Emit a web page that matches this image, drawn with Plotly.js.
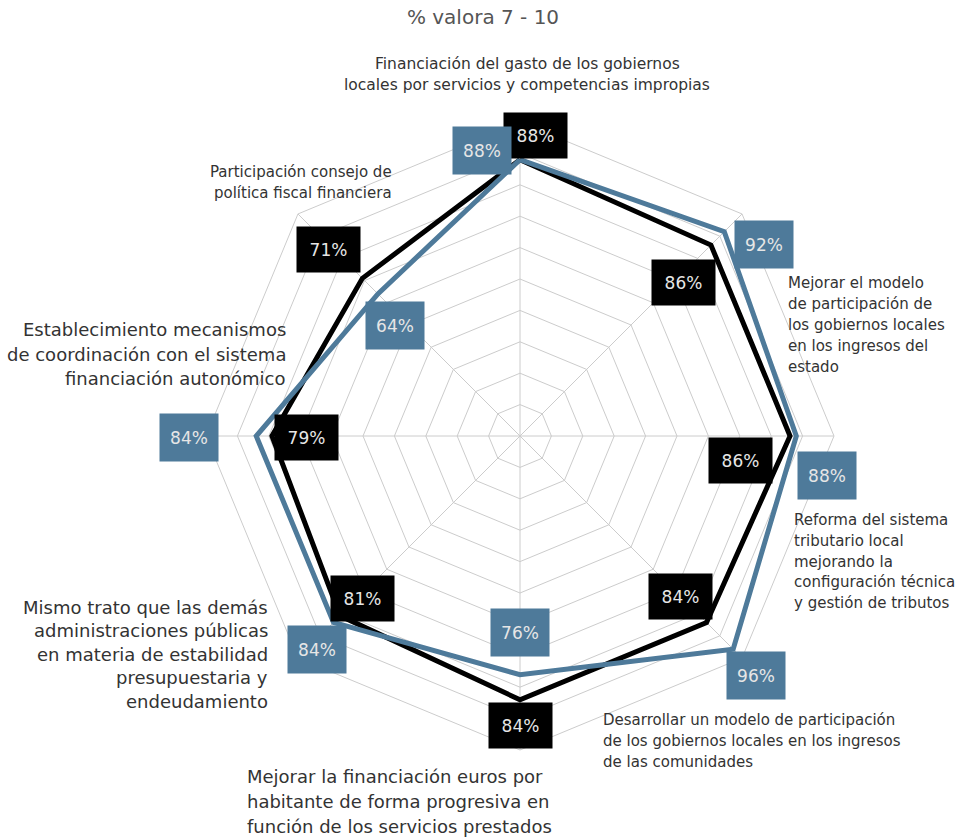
<!DOCTYPE html>
<html>
<head>
<meta charset="utf-8">
<script src="https://cdn.plot.ly/plotly-3.0.1.min.js"></script>
<style>
  body { margin: 0; background: #fff; }
  #chart { width: 968px; height: 837px; }
</style>
</head>
<body>
<div id="chart"></div>
<script>
// categories, clockwise from the top
const categories = [
  "Financiación del gasto de los gobiernos<br>locales por servicios y competencias impropias",
  "Mejorar el modelo<br>de participación de<br>los gobiernos locales<br>en los ingresos del<br>estado",
  "Reforma del sistema<br>tributario local<br>mejorando la<br>configuración técnica<br>y gestión de tributos",
  "Desarrollar un modelo de participación<br>de los gobiernos locales en los ingresos<br>de las comunidades",
  "Mejorar la financiación euros por<br>habitante de forma progresiva en<br>función de los servicios prestados",
  "Mismo trato que las demás<br>administraciones públicas<br>en materia de estabilidad<br>presupuestaria y<br>endeudamiento",
  "Establecimiento mecanismos<br>de coordinación con el sistema<br>financiación autonómico",
  "Participación consejo de<br>política fiscal financiera"
];
const blackValues = [88, 86, 86, 84, 84, 81, 79, 71];
const blueValues  = [88, 92, 88, 96, 76, 84, 84, 64];

const W = 968, H = 837;
const cx = 520, cy = 436, R = 314;
const BLUE = '#4e7a9a';
const FONT = '"DejaVu Sans", sans-serif';

// label box offsets from their point (screen px, down positive)
const blackShift = [[15,-24],[-27,37],[-50,24],[-26,-26],[0,26],[22,-17],[35,1],[-34,-29]];
const blueShift  = [[-38,-9],[40,13],[31,39],[23,26],[0,-42],[-16,27],[-67,1],[17,32]];

// category label placement (px): x, first line centre y, line step, anchor, font size
const catPos = [
  [527, 64, 21, 'center', 15.5],
  [787, 283, 21, 'left', 15],
  [793, 520, 20.8, 'left', 15],
  [602, 720, 21, 'left', 15],
  [246, 776, 25, 'left', 18],
  [269, 607, 23.5, 'right', 18],
  [287, 330, 24, 'right', 18],
  [393, 172, 21, 'right', 15]
];

const keys = categories.map((c, i) => 'c' + i);
const close = arr => arr.concat(arr[0]);

const traces = [
  {
    type: 'scatterpolar', mode: 'lines',
    r: close(blackValues), theta: close(keys),
    line: {color: '#000', width: 5},
    hoverinfo: 'skip', showlegend: false
  },
  {
    type: 'scatterpolar', mode: 'lines',
    r: close(blueValues), theta: close(keys),
    line: {color: BLUE, width: 5},
    hoverinfo: 'skip', showlegend: false
  },
  // empty carrier for the overlay axes used by the value labels
  {type: 'scatter', x: [], y: [], xaxis: 'x', yaxis: 'y', hoverinfo: 'skip', showlegend: false}
];

const dom = {
  x: [(cx - R) / W, (cx + R) / W],
  y: [(H - cy - R) / H, (H - cy + R) / H]
};

function pt(v, i) {
  const a = (90 - 45 * i) * Math.PI / 180;
  return [v * Math.cos(a), v * Math.sin(a)];
}

const annotations = [];
function valueLabel(vals, shifts, bg, w, h) {
  vals.forEach((v, i) => {
    const p = pt(v, i);
    annotations.push({
      x: p[0], y: p[1], xref: 'x', yref: 'y',
      text: v + '%', showarrow: false,
      xshift: shifts[i][0], yshift: -shifts[i][1],
      width: w, height: h, valign: 'middle',
      bgcolor: bg, borderpad: 1,
      font: {family: FONT, size: 17, color: '#e6e6e6'}
    });
  });
}
valueLabel(blackValues, blackShift, '#000', 61, 43);
valueLabel(blueValues, blueShift, BLUE, 56, 45);

// one annotation per text line so the line step can follow the picture
categories.forEach((c, i) => {
  const p = catPos[i];
  c.split('<br>').forEach((line, k) => {
    annotations.push({
      x: p[0] / W, y: 1 - (p[1] + k * p[2]) / H, xref: 'paper', yref: 'paper',
      xanchor: p[3], yanchor: 'middle', align: p[3],
      text: line, showarrow: false, borderpad: 0,
      font: {family: FONT, size: p[4], color: '#333'}
    });
  });
});

const layout = {
  width: W, height: H,
  margin: {l: 0, r: 0, t: 0, b: 0},
  paper_bgcolor: '#fff',
  font: {family: FONT, color: '#333'},
  title: {
    text: '% valora 7 - 10',
    x: 483 / W, y: 1 - 17 / H, xanchor: 'center', yanchor: 'middle',
    font: {family: FONT, size: 20, color: '#555'}
  },
  polar: {
    domain: dom,
    gridshape: 'linear',
    bgcolor: 'rgba(0,0,0,0)',
    radialaxis: {
      range: [0, 100], dtick: 10, showticklabels: false, ticks: '',
      showline: false, gridcolor: '#cccccc', gridwidth: 1
    },
    angularaxis: {
      direction: 'clockwise', rotation: 90,
      showticklabels: false, ticks: '',
      showline: true, linecolor: '#cccccc', linewidth: 1,
      gridcolor: '#cccccc', gridwidth: 1
    }
  },
  xaxis: {domain: dom.x, range: [-100, 100], visible: false, fixedrange: true},
  yaxis: {domain: dom.y, range: [-100, 100], visible: false, fixedrange: true},
  annotations: annotations,
  showlegend: false
};

Plotly.newPlot('chart', traces, layout, {displayModeBar: false, staticPlot: true});
</script>
</body>
</html>
